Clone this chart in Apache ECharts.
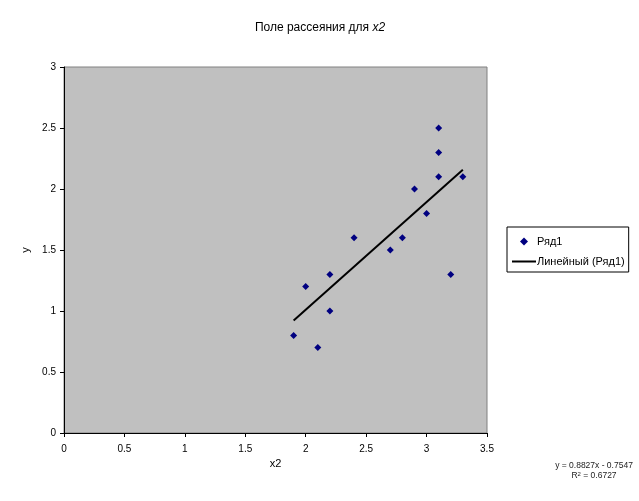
<!DOCTYPE html>
<html>
<head>
<meta charset="utf-8">
<script src="https://cdn.jsdelivr.net/npm/echarts@6/dist/echarts.min.js"></script>
<style>
  html, body { margin: 0; padding: 0; background: #fff; }
  #chart { width: 639px; height: 501px; }
</style>
</head>
<body>
<div id="chart"></div>
<script>
  // точки x2 / y
  const x2Values = [1.9, 2.0, 2.1, 2.2, 2.2, 2.4, 2.7, 2.8, 2.9, 3.0, 3.1, 3.1, 3.1, 3.2, 3.3];
  const yValues = [0.8, 1.2, 0.7, 1.3, 1.0, 1.6, 1.5, 1.6, 2.0, 1.8, 2.5, 2.3, 2.1, 1.3, 2.1];
  // линия тренда из подписи графика
  const slope = 0.8827;
  const intercept = -0.7547;
  const rSquared = 0.6727;
  const trendX = [1.9, 3.3];

  const points = x2Values.map((x, i) => [x, yValues[i]]);
  const trend = trendX.map((x) => [x, slope * x + intercept]);

  const font = "Liberation Sans, Arial, sans-serif";
  var myChart = echarts.init(document.getElementById("chart"));
  var option = {
    animation: false,
    textStyle: { fontFamily: font },
    title: {
      text: "{n|Поле рассеяния для }{i|x2}",
      left: 315,
      top: 17,
      textAlign: "center",
      textStyle: {
        fontWeight: "normal",
        rich: {
          n: { fontSize: 12, color: "#000", fontFamily: font, fontWeight: "normal" },
          i: { fontSize: 12, color: "#000", fontFamily: font, fontWeight: "normal", fontStyle: "italic" },
        },
      },
    },
    legend: {
      orient: "vertical",
      left: 507,
      top: 227,
      padding: [9, 4, 5, 5],
      itemGap: 9,
      itemWidth: 24,
      itemHeight: 8,
      symbolKeepAspect: true,
      borderColor: "#000",
      borderWidth: 1,
      borderRadius: 0,
      textStyle: { fontSize: 11, color: "#000", fontFamily: font, padding: [0, 0, 0, -4] },
      data: [
        { name: "Ряд1", icon: "path://M0,4L4,0L8,4L4,8Z" },
        { name: "Линейный (Ряд1)", icon: "path://M0,0L24,0L24,2L0,2Z" },
      ],
    },
    grid: {
      left: 64,
      top: 67,
      width: 423,
      height: 366,
      show: true,
      backgroundColor: "#c0c0c0",
      borderColor: "#808080",
      borderWidth: 1,
    },
    xAxis: {
      type: "value",
      min: 0,
      max: 3.5,
      interval: 0.5,
      name: "x2",
      nameLocation: "middle",
      nameGap: 24,
      nameTextStyle: { fontSize: 11, color: "#000" },
      axisLine: { show: true, lineStyle: { color: "#000", width: 1 } },
      axisTick: { show: true, length: 4, lineStyle: { color: "#000" } },
      axisLabel: { fontSize: 10, color: "#000", margin: 11 },
      splitLine: { show: false },
    },
    yAxis: {
      type: "value",
      min: 0,
      max: 3,
      interval: 0.5,
      name: "y",
      nameLocation: "middle",
      nameGap: 29,
      nameTextStyle: { fontSize: 11, color: "#000" },
      axisLine: { show: true, lineStyle: { color: "#000", width: 1 } },
      axisTick: { show: true, length: 4, lineStyle: { color: "#000" } },
      axisLabel: { fontSize: 10, color: "#000", margin: 8 },
      splitLine: { show: false },
    },
    graphic: [
      {
        type: "text",
        x: 594,
        y: 466,
        style: {
          text: "y = 0.8827x - 0.7547",
          font: "8.5px " + font,
          fill: "#222",
          align: "center",
          verticalAlign: "middle",
        },
      },
      {
        type: "text",
        x: 594,
        y: 476,
        style: {
          text: "{a|R}{s|2}{a| = " + rSquared.toFixed(4) + "}",
          align: "center",
          verticalAlign: "middle",
          rich: {
            a: { font: "8.5px " + font, fill: "#222", verticalAlign: "bottom" },
            s: { font: "6px " + font, fill: "#222", verticalAlign: "top" },
          },
        },
      },
    ],
    series: [
      {
        name: "Ряд1",
        type: "scatter",
        symbol: "diamond",
        symbolSize: 7,
        itemStyle: { color: "#000080", opacity: 1 },
        data: points,
        z: 3,
      },
      {
        name: "Линейный (Ряд1)",
        type: "line",
        symbol: "none",
        lineStyle: { color: "#000", width: 2 },
        itemStyle: { color: "#000" },
        data: trend,
        z: 2,
      },
    ],
  };
  myChart.setOption(option);
</script>
</body>
</html>
